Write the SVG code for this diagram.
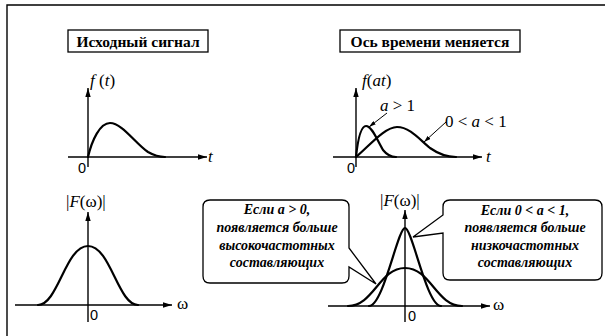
<svg xmlns="http://www.w3.org/2000/svg" width="605" height="336" viewBox="0 0 605 336">
<style>
.ax{stroke:#000;stroke-width:1.4;fill:none}
.cv{stroke:#000;stroke-width:2.2;fill:none;stroke-linejoin:round;stroke-linecap:round}
.ld{stroke:#000;stroke-width:1;fill:none}
.box{stroke:#000;stroke-width:1.3;fill:#fff}
.ttl{font-family:"Liberation Serif",serif;font-weight:bold;font-size:15.5px;text-anchor:middle}
.lbl{font-family:"Liberation Serif",serif;font-size:17px}
.it{font-style:italic}
.zero{font-family:"Liberation Sans",sans-serif;font-size:14.5px}
.co{font-family:"Liberation Serif",serif;font-weight:bold;font-style:italic;font-size:14px;text-anchor:middle}
</style>
<defs>
<marker id="ah" viewBox="0 0 10 6" refX="10" refY="3" markerWidth="9" markerHeight="5.4" orient="auto" markerUnits="userSpaceOnUse"><path d="M0,0 L10,3 L0,6 z" fill="#000"/></marker>
<marker id="sh" viewBox="0 0 10 6" refX="10" refY="3" markerWidth="7" markerHeight="4.2" orient="auto" markerUnits="userSpaceOnUse"><path d="M0,0 L10,3 L0,6 z" fill="#000"/></marker>
</defs>
<rect width="605" height="336" fill="#fff"/>
<g id="frame"><path class="ax" d="M7,336 V5 H605"/></g>

<g id="title-original"><rect class="box" x="68" y="30" width="140" height="22"/><text class="ttl" x="138" y="46.5">Исходный сигнал</text></g>
<g id="title-scaled"><rect class="box" x="340" y="30" width="180" height="22"/><text class="ttl" x="430" y="46.5">Ось времени меняется</text></g>

<g id="connectors">
<line class="ax" x1="68" y1="157" x2="207" y2="157" marker-end="url(#ah)"/>
<line class="ax" x1="88" y1="167" x2="88" y2="88" marker-end="url(#ah)"/>
<line class="ax" x1="333" y1="157" x2="482" y2="157" marker-end="url(#ah)"/>
<line class="ax" x1="356" y1="167" x2="356" y2="88" marker-end="url(#ah)"/>
<line class="ax" x1="15" y1="305" x2="172" y2="305" marker-end="url(#ah)"/>
<line class="ax" x1="88" y1="322" x2="88" y2="212" marker-end="url(#ah)"/>
<line class="ax" x1="328" y1="306" x2="490" y2="306" marker-end="url(#ah)"/>
<line class="ax" x1="405" y1="322" x2="405" y2="210" marker-end="url(#ah)"/>
<line class="ld" x1="387" y1="113" x2="369" y2="127" marker-end="url(#sh)"/>
<line class="ld" x1="446" y1="122" x2="424" y2="142" marker-end="url(#sh)"/>
</g>

<g id="plot-ft">
<path class="cv" d="M88,157 C92,140 100,123 110,123 C122,123 135,143 148,152 C155,156 160,157 165,157"/>
<text class="lbl" x="90" y="86"><tspan class="it">f</tspan> (<tspan class="it">t</tspan>)</text>
<text class="lbl it" x="208" y="162">t</text>
<text class="zero" x="78" y="173">0</text>
</g>

<g id="plot-fat">
<path class="cv" d="M356,157 C358,138 361,126 366,126 C372,126 377,140 383,150 C387,155 391,157 396,157"/>
<path class="cv" d="M356,157 C370,145 385,127 397,127 C410,127 420,140 430,148 C440,155 448,157 456,157"/>
<text class="lbl" x="362" y="86"><tspan class="it">f</tspan>(<tspan class="it">at</tspan>)</text>
<text class="lbl" x="380" y="111"><tspan class="it">a</tspan> &gt; 1</text>
<text class="lbl" x="445" y="127">0 &lt; <tspan class="it">a</tspan> &lt; 1</text>
<text class="lbl it" x="486" y="162">t</text>
<text class="zero" x="347" y="173">0</text>
</g>

<g id="plot-Fw">
<path class="cv" d="M38,305 C58,305 65.5,246 88,246 C110.5,246 118,305 138,305"/>
<text class="lbl" x="66" y="207">|<tspan class="it">F</tspan>(ω)|</text>
<text class="lbl" x="177" y="309">ω</text>
<text class="zero" x="90" y="320">0</text>
</g>

<g id="plot-Fw-scaled">
<path class="cv" d="M348,306 C373.6,306 379.4,268 405,268 C430.6,268 436.4,306 462,306"/>
<path class="cv" d="M369,306 C383.4,306 397.8,228 405,228 C412.2,228 426.6,306 441,306"/>
<text class="lbl" x="380" y="206">|<tspan class="it">F</tspan>(ω)|</text>
<text class="lbl" x="493" y="310">ω</text>
<text class="zero" x="408" y="321">0</text>
</g>

<g id="callout-high">
<path class="box" d="M210,200 H342 Q349,200 349,207 V248 L376,284 L349,267 V276 Q349,283 342,283 H210 Q203,283 203,276 V207 Q203,200 210,200 Z"/>
<text class="co" x="277" y="214">Если a &gt; 0,</text>
<text class="co" x="277" y="232">появляется больше</text>
<text class="co" x="277" y="250">высокочастотных</text>
<text class="co" x="277" y="267">составляющих</text>
</g>

<g id="callout-low">
<path class="box" d="M450,200 H595 Q602,200 602,207 V273 Q602,280 595,280 H450 Q443,280 443,273 V233 L413,237 L443,215 V207 Q443,200 450,200 Z"/>
<text class="co" x="525" y="215">Если 0 &lt; a &lt; 1,</text>
<text class="co" x="525" y="232">появляется больше</text>
<text class="co" x="525" y="250">низкочастотных</text>
<text class="co" x="525" y="267">составляющих</text>
</g>
</svg>
